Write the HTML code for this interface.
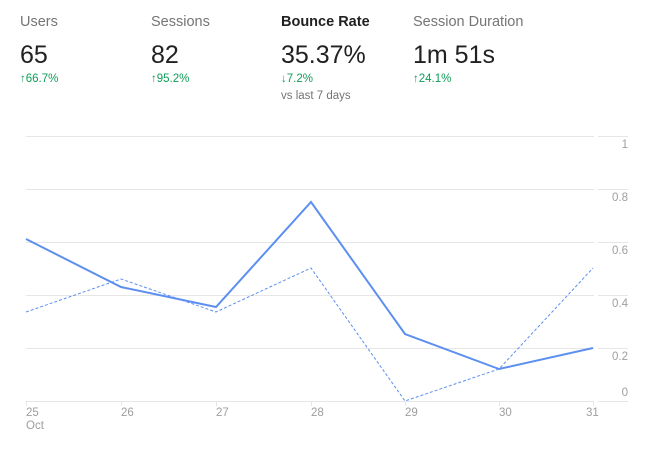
<!DOCTYPE html>
<html><head><style>
body{margin:0;width:647px;height:451px;background:#fff;font-family:"Liberation Sans",sans-serif;overflow:hidden;position:relative}
.m{position:absolute;top:14px}
.t{font-size:14.5px;color:#757575}
.v{font-size:25px;color:#212121;margin-top:11px;font-weight:300}
.c{font-size:11.5px;color:#0f9d58;margin-top:3px}
.s{font-size:11.5px;color:#757575;margin-top:5px}
</style></head><body>
<div class="m" style="left:20px"><div class="t">Users</div><div class="v">65</div><div class="c">↑66.7%</div></div>
<div class="m" style="left:151px"><div class="t">Sessions</div><div class="v">82</div><div class="c">↑95.2%</div></div>
<div class="m" style="left:281px"><div class="t" style="color:#212121;font-weight:bold">Bounce Rate</div><div class="v" style="font-weight:400">35.37%</div><div class="c">↓7.2%</div><div class="s">vs last 7 days</div></div>
<div class="m" style="left:413px"><div class="t">Session Duration</div><div class="v">1m 51s</div><div class="c">↑24.1%</div></div>
<svg width="647" height="451" style="position:absolute;left:0;top:0" font-family="Liberation Sans,sans-serif" font-size="11.5" fill="#9e9e9e">
<g stroke="#e6e6e6" stroke-width="1">
<line x1="26" y1="136.5" x2="594" y2="136.5"/><line x1="26" y1="189.5" x2="594" y2="189.5"/><line x1="26" y1="242.5" x2="594" y2="242.5"/><line x1="26" y1="295.5" x2="594" y2="295.5"/><line x1="26" y1="348.5" x2="594" y2="348.5"/><line x1="26" y1="401.5" x2="594" y2="401.5"/>
<line x1="598" y1="136.5" x2="628" y2="136.5"/><line x1="598" y1="189.5" x2="628" y2="189.5"/><line x1="598" y1="242.5" x2="628" y2="242.5"/><line x1="598" y1="295.5" x2="628" y2="295.5"/><line x1="598" y1="348.5" x2="628" y2="348.5"/><line x1="598" y1="401.5" x2="628" y2="401.5"/>
<line x1="26.5" y1="401" x2="26.5" y2="406"/><line x1="121.5" y1="401" x2="121.5" y2="406"/><line x1="216.5" y1="401" x2="216.5" y2="406"/><line x1="311.5" y1="401" x2="311.5" y2="406"/><line x1="405.5" y1="401" x2="405.5" y2="406"/><line x1="499.5" y1="401" x2="499.5" y2="406"/><line x1="593.5" y1="401" x2="593.5" y2="406"/>
</g>
<g text-anchor="end"><text x="628" y="148">1</text><text x="628" y="201">0.8</text><text x="628" y="254">0.6</text><text x="628" y="307">0.4</text><text x="628" y="360">0.2</text><text x="628" y="396">0</text></g>
<text x="26" y="416">25</text><text x="26" y="429">Oct</text><text x="121" y="416">26</text><text x="216" y="416">27</text><text x="311" y="416">28</text><text x="405" y="416">29</text><text x="499" y="416">30</text><text x="586" y="416">31</text>
<polyline fill="none" stroke="#5c8ff0" stroke-width="1" stroke-dasharray="3,2" points="26,312 121,279 216,312 311,268 405,401 499,369 593,268"/>
<polyline fill="none" stroke="#5c8ff0" stroke-width="2" points="26,239 121,287 216,307 311,202 405,334 499,369 593,348"/>
</svg>
</body></html>
